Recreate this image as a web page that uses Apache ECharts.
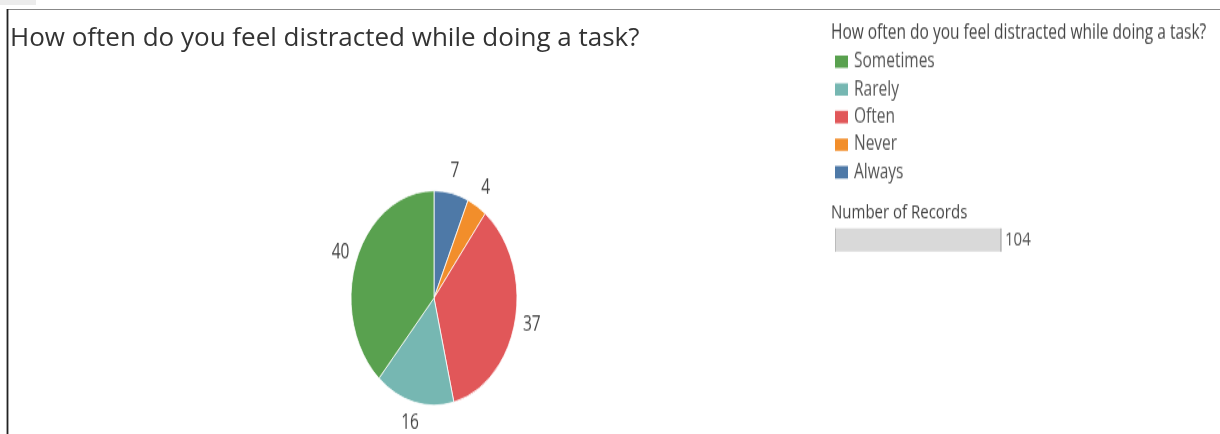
<!DOCTYPE html>
<html>
<head>
<meta charset="utf-8">
<script src="https://cdn.jsdelivr.net/npm/echarts@6/dist/echarts.min.js"></script>
<style>
  html, body { margin: 0; padding: 0; background: #fff; }
  #wrap { position: relative; width: 1220px; height: 434px; overflow: hidden; }
  #base { position: absolute; left: 0; top: 0; width: 1220px; height: 434px; }
  #pie { position: absolute; left: 0; top: 0; width: 1220px; height: 336px;
         transform: scaleY(1.2917); transform-origin: 0 0; }
</style>
</head>
<body>
<div id="wrap">
  <div id="base"></div>
  <div id="pie"></div>
</div>
<script>
// ---- data ----
const chartTitle = 'How often do you feel distracted while doing a task?';
const categories = ['Always', 'Never', 'Often', 'Rarely', 'Sometimes'];
const values = [7, 4, 37, 16, 40];
const colors = ['#4e79a7', '#f28e2b', '#e15759', '#76b7b2', '#59a14f'];
const legendOrder = ['Sometimes', 'Rarely', 'Often', 'Never', 'Always'];
const sizeLegendTitle = 'Number of Records';
const totalRecords = values.reduce((a, b) => a + b, 0);

const FONT = '"Open Sans", "Noto Sans", sans-serif';

// ---- base layer (unstretched): frame and title ----
const base = echarts.init(document.getElementById('base'));
base.setOption({
  animation: false,
  graphic: [
    { type: 'rect', shape: { x: 0, y: 0, width: 36, height: 5 }, style: { fill: '#ececec' } },
    { type: 'line', shape: { x1: 8, y1: 9.5, x2: 1220, y2: 9.5 }, style: { stroke: '#888', lineWidth: 1 } },
    { type: 'line', shape: { x1: 7.5, y1: 9, x2: 7.5, y2: 434 }, style: { stroke: '#222', lineWidth: 1.8 } },
    { type: 'text', x: 10, y: 39,
      style: { text: chartTitle, font: '26px ' + FONT, fill: '#333', textVerticalAlign: 'middle' } }
  ]
});

// ---- pie layer (stretched vertically like the reference) ----
const pie = echarts.init(document.getElementById('pie'));
const pieData = categories.map((c, i) => ({ name: c, value: values[i], itemStyle: { color: colors[i] } }));
const labelData = categories.map((c, i) => ({ name: c, value: values[i] }));
pie.setOption({
  animation: false,
  legend: {
    orient: 'vertical',
    left: 833,
    top: 39.8,
    padding: 0,
    data: legendOrder,
    icon: 'rect',
    itemWidth: 15,
    itemHeight: 11.6,
    itemGap: 5.4,
    selectedMode: false,
    textStyle: { fontFamily: FONT, fontSize: 15.5, lineHeight: 16, color: '#555' }
  },
  graphic: [
    { type: 'text', x: 831, y: 25.5,
      style: { text: chartTitle, font: '15.5px ' + FONT, fill: '#444', textVerticalAlign: 'middle' } },
    { type: 'text', x: 831, y: 164.5,
      style: { text: sizeLegendTitle, font: '15px ' + FONT, fill: '#444', textVerticalAlign: 'middle' } },
    { type: 'rect', shape: { x: 835, y: 176.8, width: 166, height: 18 }, style: { fill: '#d9d9d9' } },
    { type: 'line', shape: { x1: 835.5, y1: 176.8, x2: 835.5, y2: 194.8 }, style: { stroke: '#bbb', lineWidth: 1 } },
    { type: 'line', shape: { x1: 1001, y1: 176.8, x2: 1001, y2: 194.8 }, style: { stroke: '#999', lineWidth: 1 } },
    { type: 'text', x: 1005, y: 186,
      style: { text: String(totalRecords), font: '15px ' + FONT, fill: '#555', textVerticalAlign: 'middle' } }
  ],
  series: [{
    type: 'pie',
    center: [434, 230.7],
    radius: 83,
    startAngle: 90,
    clockwise: true,
    data: pieData,
    itemStyle: { borderColor: '#fff', borderWidth: 0.8 },
    label: { show: false },
    labelLine: { show: false },
    emphasis: { disabled: true }
  }, {
    // invisible ring used only to place the value labels just outside the pie
    type: 'pie',
    center: [434, 230.7],
    radius: [96, 98],
    startAngle: 90,
    clockwise: true,
    silent: true,
    data: labelData,
    itemStyle: { color: 'rgba(0,0,0,0)', borderWidth: 0 },
    label: { show: true, position: 'inside', formatter: '{c}', fontFamily: FONT, fontSize: 15.5, color: '#444' },
    labelLine: { show: false },
    emphasis: { disabled: true }
  }]
});
</script>
</body>
</html>
